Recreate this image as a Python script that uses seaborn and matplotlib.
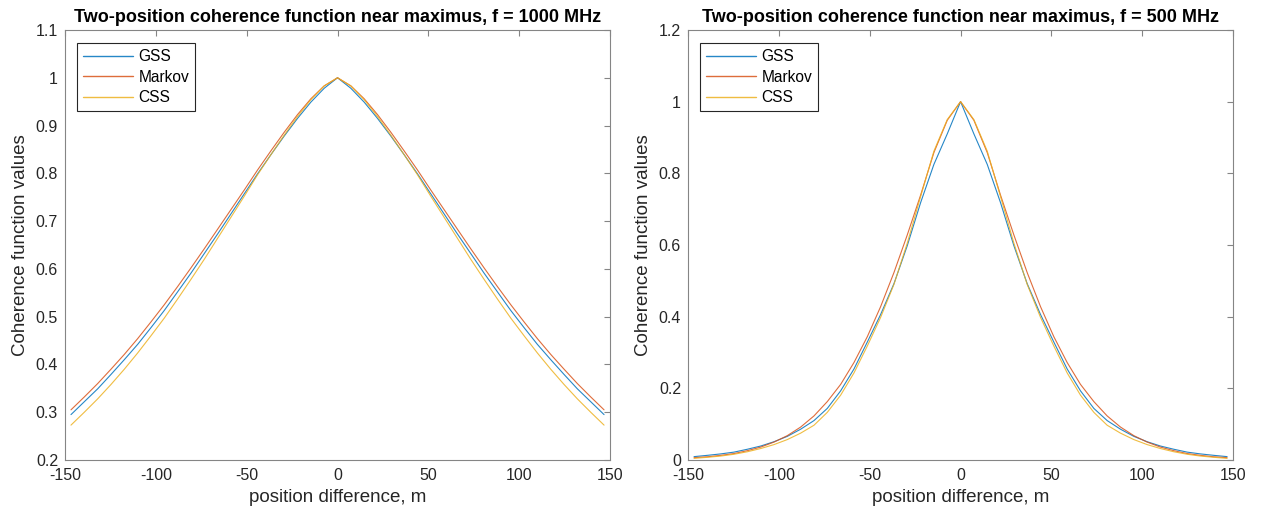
import matplotlib
matplotlib.use("Agg")
import matplotlib.pyplot as plt
from matplotlib.ticker import FuncFormatter
import pandas as pd
import seaborn as sns

# ---- data ----
position_diff = [-146.7, -139.36, -132.0, -124.7, -117.35, -110.0, -102.68, -95.35, -88.0, -80.68,
                 -73.35, -66.0, -58.67, -51.34, -44.0, -36.67, -29.34, -22.0, -14.67, -7.33, 0.0,
                 7.33, 14.67, 22.0, 29.34, 36.67, 44.0, 51.34, 58.67, 66.0, 73.35, 80.68, 88.0,
                 95.35, 102.68, 110.0, 117.35, 124.7, 132.0, 139.36, 146.7]

gss_1000 = [0.295, 0.322, 0.349, 0.379, 0.410, 0.442, 0.477, 0.513, 0.552, 0.591, 0.632, 0.673, 0.715,
            0.757, 0.799, 0.839, 0.878, 0.915, 0.949, 0.978, 1.000, 0.978, 0.949, 0.915, 0.878, 0.839,
            0.799, 0.757, 0.715, 0.673, 0.632, 0.591, 0.552, 0.513, 0.477, 0.442, 0.410, 0.379, 0.349,
            0.322, 0.295]
markov_1000 = [0.305, 0.332, 0.360, 0.390, 0.421, 0.454, 0.489, 0.525, 0.563, 0.602, 0.642, 0.683, 0.724,
               0.765, 0.807, 0.847, 0.886, 0.923, 0.956, 0.983, 1.000, 0.983, 0.956, 0.923, 0.886, 0.847,
               0.807, 0.765, 0.724, 0.683, 0.642, 0.602, 0.563, 0.525, 0.489, 0.454, 0.421, 0.390, 0.360,
               0.332, 0.305]
css_1000 = [0.273, 0.300, 0.328, 0.358, 0.390, 0.424, 0.460, 0.497, 0.537, 0.578, 0.620, 0.664, 0.708,
            0.752, 0.797, 0.839, 0.880, 0.919, 0.954, 0.983, 1.000, 0.983, 0.954, 0.919, 0.880, 0.839,
            0.797, 0.752, 0.708, 0.664, 0.620, 0.578, 0.537, 0.497, 0.460, 0.424, 0.390, 0.358, 0.328,
            0.300, 0.273]

gss_500 = [0.0094, 0.013, 0.017, 0.022, 0.030, 0.039, 0.051, 0.066, 0.086, 0.110, 0.144, 0.193, 0.254,
           0.329, 0.406, 0.492, 0.598, 0.718, 0.825, 0.910, 1.000, 0.910, 0.825, 0.718, 0.598, 0.492,
           0.406, 0.329, 0.254, 0.193, 0.144, 0.110, 0.086, 0.066, 0.051, 0.039, 0.030, 0.022, 0.017,
           0.013, 0.0094]
markov_500 = [0.0065, 0.009, 0.013, 0.018, 0.026, 0.036, 0.050, 0.068, 0.092, 0.123, 0.163, 0.211, 0.272,
              0.344, 0.428, 0.523, 0.628, 0.739, 0.858, 0.948, 1.000, 0.948, 0.858, 0.739, 0.628, 0.523,
              0.428, 0.344, 0.272, 0.211, 0.163, 0.123, 0.092, 0.068, 0.050, 0.036, 0.026, 0.018, 0.013,
              0.009, 0.0065]
css_500 = [0.0045, 0.0075, 0.011, 0.016, 0.023, 0.032, 0.043, 0.057, 0.075, 0.097, 0.133, 0.181, 0.243,
           0.318, 0.398, 0.490, 0.605, 0.735, 0.862, 0.950, 1.000, 0.950, 0.862, 0.735, 0.605, 0.490,
           0.398, 0.318, 0.243, 0.181, 0.133, 0.097, 0.075, 0.057, 0.043, 0.032, 0.023, 0.016, 0.011,
           0.0075, 0.0045]

models = ["GSS", "Markov", "CSS"]
titles = ["Two-position coherence function near maximus, f = 1000 MHz",
          "Two-position coherence function near maximus, f = 500 MHz"]
x_ticks = [-150, -100, -50, 0, 50, 100, 150]
y_ticks_1000 = [0.2, 0.3, 0.4, 0.5, 0.6, 0.7, 0.8, 0.9, 1.0, 1.1]
y_ticks_500 = [0, 0.2, 0.4, 0.6, 0.8, 1.0, 1.2]
xlabel = "position difference, m"
ylabel = "Coherence function values"

colors = {"GSS": "#0072BD", "Markov": "#D95319", "CSS": "#EDB120"}

def long_frame(series):
    rows = []
    for name, vals in zip(models, series):
        for xv, yv in zip(position_diff, vals):
            rows.append({"x": xv, "value": yv, "model": name})
    return pd.DataFrame(rows)

df_1000 = long_frame([gss_1000, markov_1000, css_1000])
df_500 = long_frame([gss_500, markov_500, css_500])

# ---- style ----
sns.set_theme(style="white")
plt.rcParams["font.family"] = ["Liberation Sans", "DejaVu Sans"]
axis_gray = "#262626"
spine_gray = "#858585"

fig = plt.figure(figsize=(12.62, 5.15), dpi=100)
ax1 = fig.add_axes([0.0515, 0.1068, 0.4319, 0.835])
ax2 = fig.add_axes([0.5452, 0.1068, 0.4319, 0.835])

panels = [
    (ax1, df_1000, titles[0], (0.2, 1.1), y_ticks_1000),
    (ax2, df_500, titles[1], (0, 1.2), y_ticks_500),
]

fmt = FuncFormatter(lambda v, p: "%g" % round(v, 6))

for ax, df, title, ylim, yt in panels:
    sns.lineplot(data=df, x="x", y="value", hue="model", hue_order=models,
                 palette=colors, estimator=None, errorbar=None, linewidth=0.8,
                 alpha=0.85, ax=ax, sort=True)
    ax.set_xlim(-150, 150)
    ax.set_ylim(*ylim)
    ax.set_xticks(x_ticks)
    ax.set_yticks(yt)
    ax.yaxis.set_major_formatter(fmt)
    ax.xaxis.set_major_formatter(fmt)
    ax.tick_params(axis="both", which="both", direction="in", length=4, width=0.8,
                   top=True, right=True, labelsize=11.5, color=spine_gray,
                   labelcolor=axis_gray)
    ax.tick_params(axis="x", pad=6)
    ax.tick_params(axis="y", pad=5)
    for s in ax.spines.values():
        s.set_visible(True)
        s.set_color(spine_gray)
        s.set_linewidth(0.8)
    ax.set_title(title, fontsize=13, fontweight="bold", color="black", pad=6)
    ax.set_xlabel(xlabel, fontsize=13.5, color=axis_gray, labelpad=4)
    ax.set_ylabel(ylabel, fontsize=13.5, color=axis_gray, labelpad=5)
    ax.grid(False)
    leg = ax.legend(loc="upper left", bbox_to_anchor=(0.022, 0.97), fontsize=11.2,
                    frameon=True, fancybox=False, framealpha=1, edgecolor="#262626",
                    handlelength=3.2, handletextpad=0.35, borderpad=0.4,
                    labelspacing=0.35, borderaxespad=0)
    leg.get_frame().set_linewidth(0.8)
    for line in leg.get_lines():
        line.set_linewidth(1.0)
    for t in leg.get_texts():
        t.set_color("black")

fig.savefig("out.png", dpi=100, facecolor="white")
